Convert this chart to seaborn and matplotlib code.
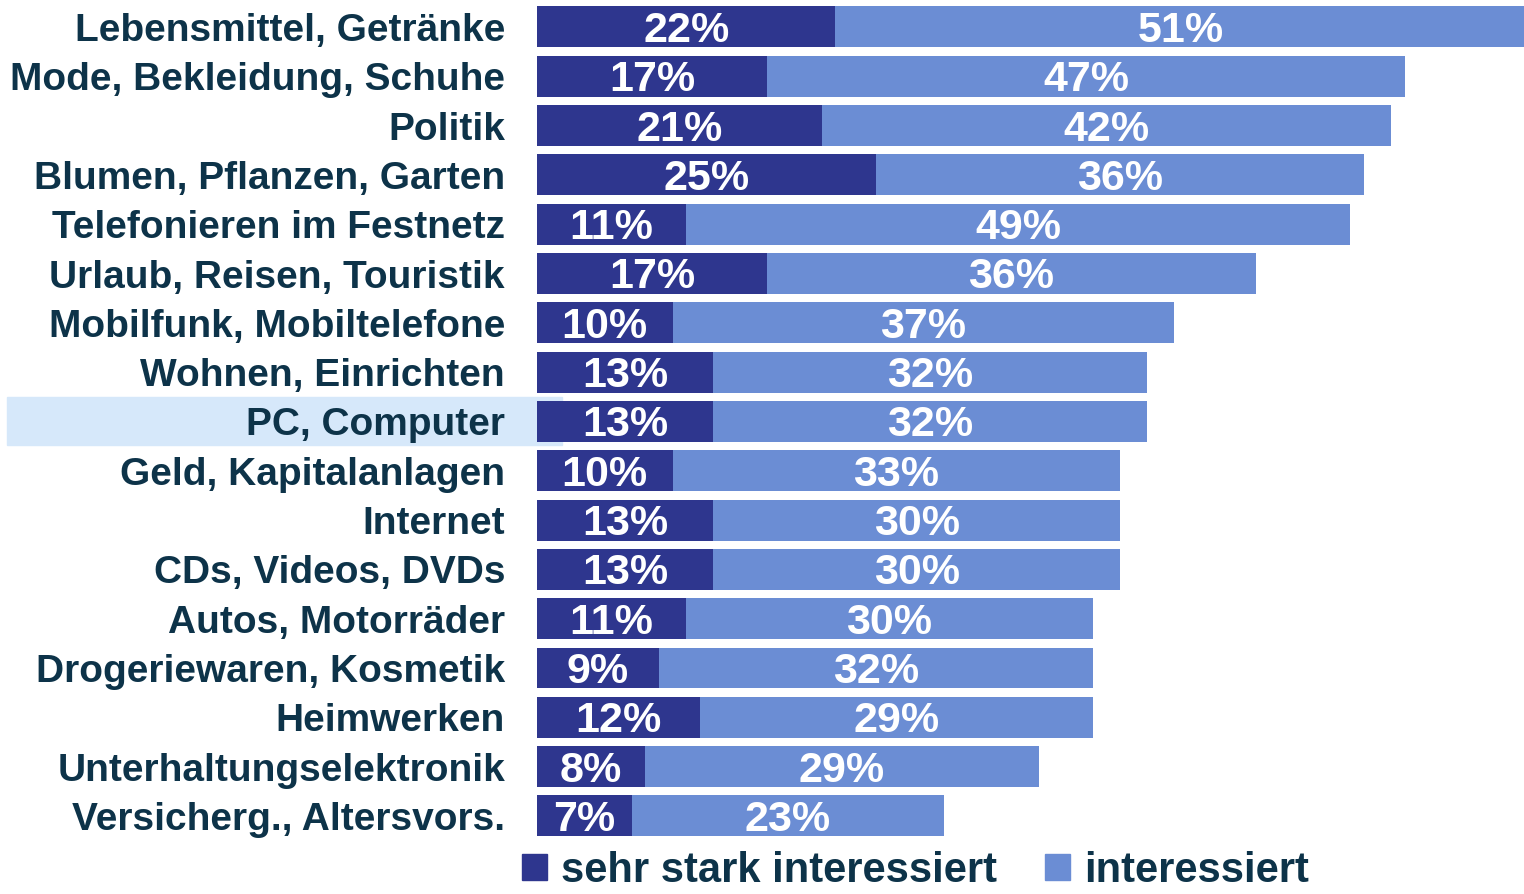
import pandas as pd
import matplotlib.pyplot as plt
import seaborn as sns
from matplotlib.patches import Rectangle, Patch

# data
categories = ["Lebensmittel, Getränke", "Mode, Bekleidung, Schuhe", "Politik",
              "Blumen, Pflanzen, Garten", "Telefonieren im Festnetz",
              "Urlaub, Reisen, Touristik", "Mobilfunk, Mobiltelefone",
              "Wohnen, Einrichten", "PC, Computer", "Geld, Kapitalanlagen",
              "Internet", "CDs, Videos, DVDs", "Autos, Motorräder",
              "Drogeriewaren, Kosmetik", "Heimwerken", "Unterhaltungselektronik",
              "Versicherg., Altersvors."]
sehr_stark = [22, 17, 21, 25, 11, 17, 10, 13, 13, 10, 13, 13, 11, 9, 12, 8, 7]
interessiert = [51, 47, 42, 36, 49, 36, 37, 32, 32, 33, 30, 30, 30, 32, 29, 29, 23]
highlight = "PC, Computer"

dark = "#2E368E"
light = "#6B8DD4"
txt = "#0D3349"

df = pd.DataFrame({"cat": categories, "sehr": sehr_stark, "int": interessiert})
df["total"] = df["sehr"] + df["int"]

sns.set_theme(style="white")
plt.rcParams["font.family"] = ["Liberation Sans", "DejaVu Sans"]
plt.rcParams["font.weight"] = "bold"

fig = plt.figure(figsize=(15.24, 8.94), dpi=100)
W, H = 1524, 894
ax = fig.add_axes([537 / W, 1 - 840.6 / H, (1524 - 537) / W, 838.3 / H])
ax.set_facecolor("none")

sns.barplot(data=df, x="total", y="cat", color=light, orient="h", width=0.83,
            saturation=1, linewidth=0, ax=ax)
sns.barplot(data=df, x="sehr", y="cat", color=dark, orient="h", width=0.83,
            saturation=1, linewidth=0, ax=ax)

# highlighted row background
i_hl = categories.index(highlight)
yc = 1 - (27 + 49.3 * i_hl) / H
fig.patches.append(Rectangle((7 / W, yc - 24 / H), (562 - 7) / W, 48 / H,
                             transform=fig.transFigure, color="#D6E8FA", zorder=-1))

for i, row in df.iterrows():
    ax.text(row["sehr"] / 2, i + 0.08, f"{row['sehr']}%", ha="center", va="center",
            color="white", fontsize=31, fontweight="bold")
    ax.text(row["sehr"] + row["int"] / 2, i + 0.08, f"{row['int']}%", ha="center",
            va="center", color="white", fontsize=31, fontweight="bold")

ax.set_xlim(0, 72.8)
ax.set_ylim(16.5, -0.5)
ax.set_xlabel("")
ax.set_ylabel("")
ax.set_xticks([])
ax.tick_params(axis="y", length=0, pad=23)
for lab in ax.get_yticklabels():
    lab.set_fontsize(28)
    lab.set_fontweight("bold")
    lab.set_color(txt)
sns.despine(ax=ax, left=True, bottom=True)

handles = [Patch(color=dark, label="sehr stark interessiert"),
           Patch(color=light, label="interessiert")]
fig.legend(handles=handles, loc="lower left", bbox_to_anchor=(484 / W, -34 / H),
           ncol=2, frameon=False, fontsize=30, handlelength=0.6, handleheight=0.6,
           handletextpad=0.35, columnspacing=1.15, labelcolor=txt)

fig.savefig("out.png", dpi=100)
